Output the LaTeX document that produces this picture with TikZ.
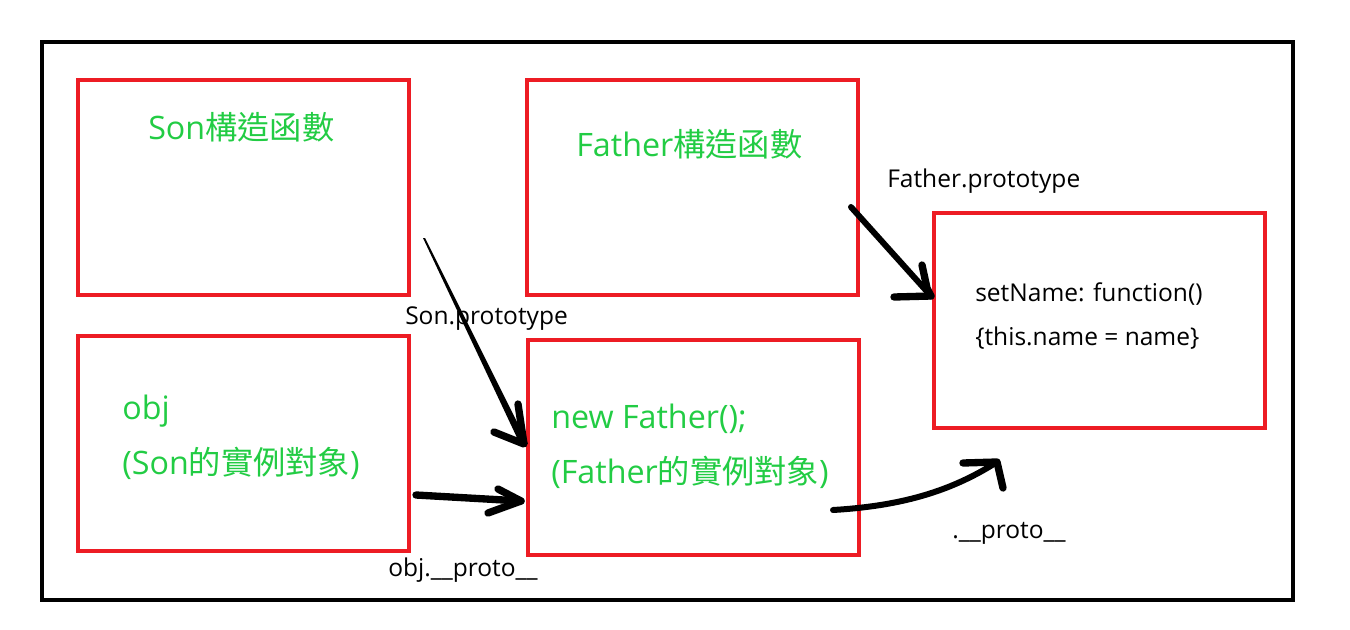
\documentclass[tikz,border=0pt]{standalone}
\usepackage{fontspec}
\setmainfont{Open Sans}
\newfontfamily\cjk{Noto Sans CJK TC}
\usetikzlibrary{positioning}

\definecolor{boxred}{RGB}{237,28,36}
\definecolor{txtgreen}{RGB}{34,204,68}

\begin{document}
\begin{tikzpicture}[x=0.75pt,y=-0.75pt]
\useasboundingbox (0,0) rectangle (1350,629);
\begin{scope}[every node/.style={draw=boxred,line width=3pt,inner sep=0pt,outer sep=0pt,
              minimum width=248pt,minimum height=161pt,anchor=north west}]
    \node (son) at (78,80) {};
    \node (father) at (527,80) {};
    \node (proto) at (934,213) {};
    \node (obj) at (78,336) {};
    \node (newf) at (528,340) {};
\end{scope}
\draw [line width=3.5pt] (42,42) rectangle (1293,600);
\begin{scope}[every node/.style={inner sep=0pt,anchor=base west},
              green_txt/.style={text=txtgreen,font=\fontsize{24.2}{28}\selectfont},
              black_txt/.style={text=black,font=\fontsize{18.4}{22}\selectfont}]
    \node [green_txt] (son_t) at (148,139) {Son{\cjk 構造函數}};
    \node [green_txt] (father_t) at (576,156) {Father{\cjk 構造函數}};
    \node [green_txt] (obj_t) at (122,419) {obj};
    \node [green_txt] (obj_s) at (122,474) {(Son{\cjk 的實例對象})};
    \node [green_txt] (newf_t) at (551,428) {new Father();};
    \node [green_txt] (newf_s) at (551,483) {(Father{\cjk 的實例對象})};
    \node [black_txt] (fp_t) at (887,187) {Father.prototype};
    \node [black_txt] (sp_t) at (405,324) {Son.prototype};
    \node [black_txt] (op_t) at (388,576) {obj.\_\_proto\_\_};
    \node [black_txt] (pp_t) at (952,538) {.\_\_proto\_\_};
    \node [black_txt] (set_t) at (975,301) {setName: function()};
    \node [black_txt] (this_t) at (975,345) {\{this.name = name\}};
\end{scope}
% hand drawn arrows
\coordinate (sp0) at (423,238);
\coordinate (sp1) at (524,444);
\coordinate (op0) at (416,495);
\coordinate (op1) at (521,501);
\coordinate (fp0) at (851,207);
\coordinate (fp1) at (931,296);
\coordinate (pp0) at (833,510);
\coordinate (pp1) at (997,462);
\begin{scope}[pen/.style={draw=black,line width=5.5pt,line cap=round,line join=round},
              thin_pen/.style={draw=black,line width=3.5pt,line cap=round}]
    \fill (sp0) -- ([xshift=1.5]sp0) -- ([xshift=3]sp1) -- ([xshift=-3]sp1) -- cycle;
    \path [pen] (518,404) -- (sp1) -- (494,432);
    \path [pen] (op0) -- (op1);
    \path [pen] (498,489) -- (op1) -- (488,513);
    \path [thin_pen,line width=4.5pt] (fp0) -- (fp1);
    \path [pen] (922,265) -- (927,288) -- (fp1);
    \path [pen] (894,297) -- (fp1);
    \path [thin_pen,line width=4.5pt] (pp0) .. controls (900,506) and (950,492) .. (pp1);
    \path [pen] (963,463) -- (pp1) -- (1003,488);
\end{scope}
\end{tikzpicture}
\end{document}
